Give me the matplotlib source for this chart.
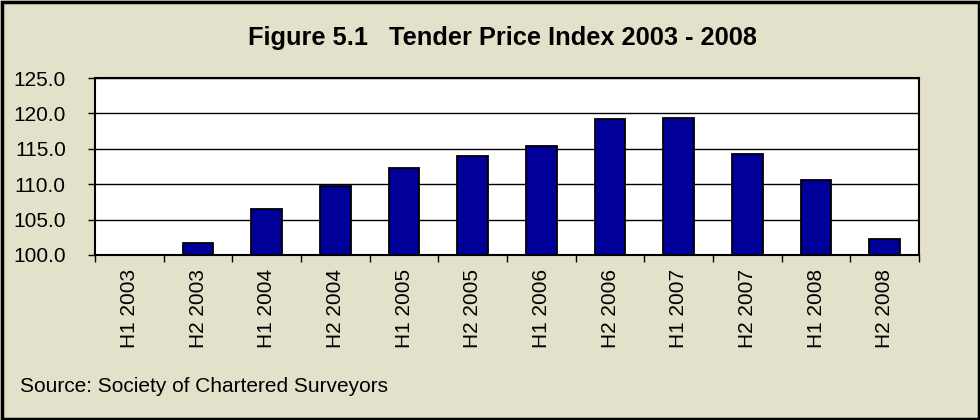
import matplotlib
matplotlib.use("Agg")
import matplotlib.pyplot as plt
from matplotlib.patches import Rectangle
from matplotlib.ticker import FormatStrFormatter, FixedLocator
import numpy as np

categories = ["H1 2003", "H2 2003", "H1 2004", "H2 2004", "H1 2005", "H2 2005",
              "H1 2006", "H2 2006", "H1 2007", "H2 2007", "H1 2008", "H2 2008"]
values = [100.0, 101.7, 106.5, 109.8, 112.3, 114.0,
          115.4, 119.2, 119.4, 114.2, 110.6, 102.2]
y_ticks = [100.0, 105.0, 110.0, 115.0, 120.0, 125.0]
title = "Figure 5.1   Tender Price Index 2003 - 2008"
source = "Source: Society of Chartered Surveyors"

plt.rcParams['font.family'] = ['Liberation Sans', 'DejaVu Sans']

bg = '#E3E1C9'
fig = plt.figure(figsize=(9.8, 4.2), dpi=100, facecolor=bg)
ax = fig.add_axes([95/980, 1-255/420, (919-95)/980, (255-78)/420])
ax.set_facecolor('white')

x = np.arange(len(categories))
ax.bar(x, [v - 100.0 for v in values], bottom=100.0, width=0.45,
       color='#000099', edgecolor='black', linewidth=1.3, zorder=3)

ax.set_xlim(-0.5, len(categories) - 0.5)
ax.set_ylim(100, 125)
ax.set_yticks(y_ticks)
ax.yaxis.set_major_formatter(FormatStrFormatter('%.1f'))
ax.grid(axis='y', color='black', linewidth=1.0, zorder=1)

# ticks at category boundaries
ax.xaxis.set_major_locator(FixedLocator(np.arange(-0.5, len(categories), 1.0)))
ax.set_xticklabels([])
ax.set_xticks(x, minor=True)
ax.set_xticklabels(categories, minor=True, rotation=90, fontsize=15,
                   va='top', ha='center')
ax.tick_params(axis='x', which='major', length=5, width=1.0, direction='out', color='black')
ax.tick_params(axis='x', which='minor', length=0, pad=10)
ax.tick_params(axis='y', length=5, width=1.0, direction='out', pad=16, labelsize=15)

for s in ax.spines.values():
    s.set_color('black')
    s.set_linewidth(1.5)

fig.text(502/980, 1 - 38/420, title, ha='center', va='center',
         fontsize=18.3, fontweight='bold')
fig.text(20/980, 1 - 386/420, source, ha='left', va='center', fontsize=15)

fig.patches.append(Rectangle((1.5/980, 1.5/420), 1 - 3/980, 1 - 3/420,
                             transform=fig.transFigure, fill=False,
                             edgecolor='black', linewidth=2.5))

fig.savefig('out.png', dpi=100, facecolor=bg)
